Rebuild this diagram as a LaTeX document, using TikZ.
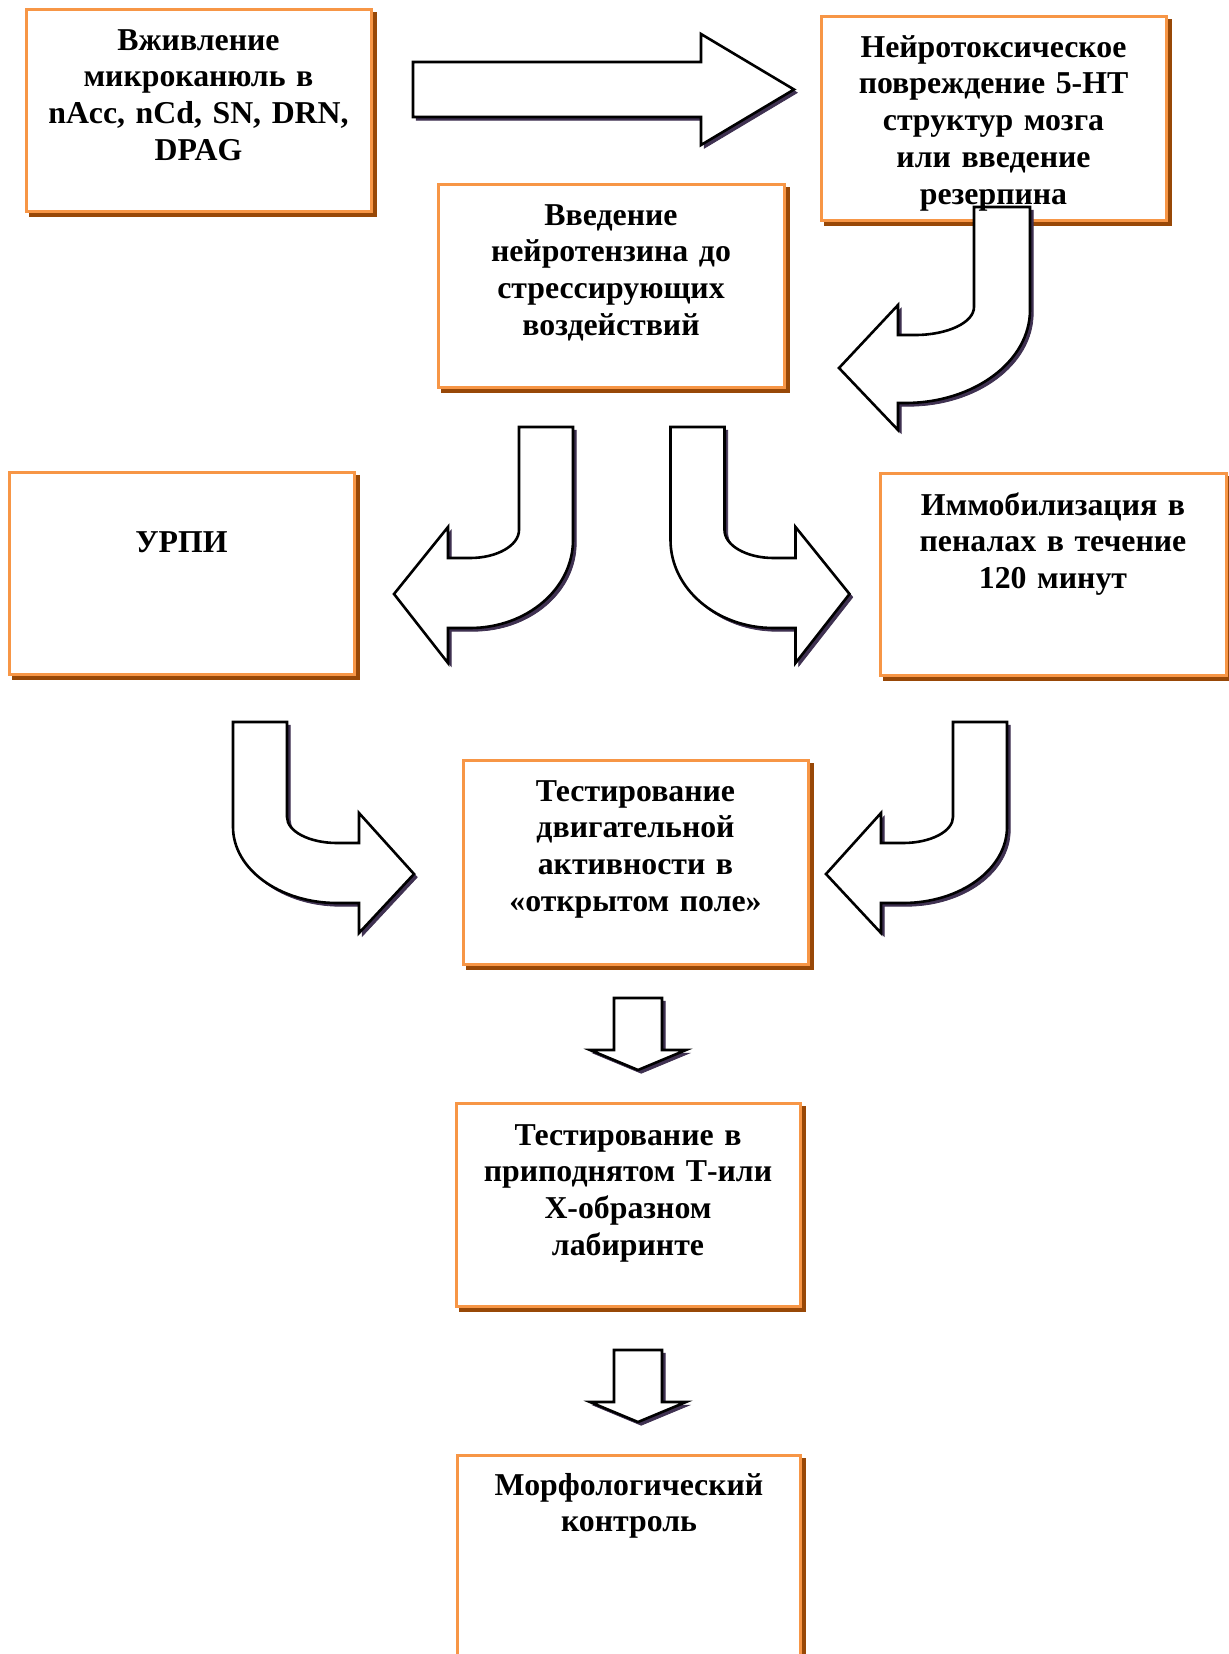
\documentclass[tikz,border=0pt]{standalone}
\usepackage{fontspec}
\setmainfont{Liberation Serif}
\usetikzlibrary{shadows,fit}
\definecolor{boxorange}{HTML}{F79646}
\definecolor{boxshadow}{HTML}{984807}
\definecolor{arrowshadow}{HTML}{3F3151}
\begin{document}
\begin{tikzpicture}[x=0.5pt,y=-0.5pt,
  box/.style={draw=boxorange, line width=1.5pt, fill=white, inner sep=0pt,
    copy shadow={shadow xshift=2.25pt, shadow yshift=-2.25pt, fill=boxshadow, draw=boxshadow}},
  blockarrow/.style={draw=black, line width=1.3pt, fill=white, line join=miter,
    copy shadow={shadow xshift=1.6pt, shadow yshift=-1.6pt, fill=arrowshadow, draw=arrowshadow}},
  lbl/.style={font=\fontsize{15.9}{18.4}\selectfont\bfseries, text width=190pt, align=center, inner sep=0pt, anchor=base}
]
\useasboundingbox (0,0) rectangle (1229,1654);
\clip (0,0) rectangle (1229,1654);

% boxes
\node[box, fit={(26,9) (371,211)}] (b1) {};
\node[box, fit={(821,16) (1166,220)}] (b2) {};
\node[box, fit={(438,184) (784,387)}] (b3) {};
\node[box, fit={(9,472) (354,674)}] (b4) {};
\node[box, fit={(880,473) (1226,675)}] (b5) {};
\node[box, fit={(463,760) (808,964)}] (b6) {};
\node[box, fit={(456,1103) (800,1306)}] (b7) {};
\node[box, fit={(457,1455) (800,1720)}] (b8) {};

% block arrows
% A1: b1 -> b2
\draw[blockarrow] (413,62) -- (701,62) -- (701,34) -- (794,89.5) -- (701,145) -- (701,117) -- (413,117) -- cycle;
% A2: b2 -> down-left
\draw[blockarrow] (974,207) -- (974,307) .. controls (974,322.5) and (947.6,335) .. (915,335) -- (898,335) -- (898,305) -- (839,368) -- (898,430) -- (898,403) -- (905,403) .. controls (974,403) and (1030,361.4) .. (1030,310) -- (1030,207) -- cycle;
% A3: below b3, turning left
\draw[blockarrow] (519,427) -- (519,530) .. controls (519,545.5) and (497,558) .. (470,558) -- (448,558) -- (448,527) -- (394,594) -- (448,663) -- (448,628) -- (470,628) .. controls (527,628) and (573,588.6) .. (573,540) -- (573,427) -- cycle;
% A4: below b3, turning right
\draw[blockarrow] (724.5,427) -- (724.5,530) .. controls (724.5,545.5) and (746.5,558) .. (773.5,558) -- (795.5,558) -- (795.5,527) -- (849.5,594) -- (795.5,663) -- (795.5,628) -- (773.5,628) .. controls (716.5,628) and (670.5,588.6) .. (670.5,540) -- (670.5,427) -- cycle;
% A5: below b4, turning right
\draw[blockarrow] (287,722) -- (287,817) .. controls (287,831.4) and (309.4,843) .. (337,843) -- (359,843) -- (359,813) -- (414,874) -- (359,933) -- (359,903) -- (337,903) .. controls (279.6,903) and (233,869) .. (233,827) -- (233,722) -- cycle;
% A6: below b5, turning left
\draw[blockarrow] (953,722) -- (953,817) .. controls (953,831.4) and (930.6,843) .. (903,843) -- (881,843) -- (881,813) -- (826,874) -- (881,933) -- (881,903) -- (903,903) .. controls (960.4,903) and (1007,869) .. (1007,827) -- (1007,722) -- cycle;
% A7: b6 -> b7
\draw[blockarrow] (614,998) -- (662,998) -- (662,1050) -- (686,1050) -- (638,1070) -- (590,1050) -- (614,1050) -- cycle;
% A8: b7 -> b8
\draw[blockarrow] (614,1350) -- (662,1350) -- (662,1402) -- (686,1402) -- (638,1422) -- (590,1402) -- (614,1402) -- cycle;

% texts
\node[lbl] (t1) at (198.5,50) {Вживление\\микроканюль в\\nAcc, nCd, SN, DRN,\\DPAG};
\node[lbl] (t2) at (993.5,57) {Нейротоксическое\\повреждение 5-HT\\структур мозга\\или введение\\резерпина};
\node[lbl] (t3) at (611,225) {Введение\\нейротензина до\\стрессирующих\\воздействий};
\node[lbl] (t4) at (181.5,552) {УРПИ};
\node[lbl] (t5) at (1053,515) {Иммобилизация в\\пеналах в течение\\120 минут};
\node[lbl] (t6) at (635.5,801) {Тестирование\\двигательной\\активности в\\«открытом поле»};
\node[lbl] (t7) at (628,1145) {Тестирование в\\приподнятом Т-или\\Х-образном\\лабиринте};
\node[lbl] (t8) at (629,1495) {Морфологический\\контроль};
\end{tikzpicture}
\end{document}
